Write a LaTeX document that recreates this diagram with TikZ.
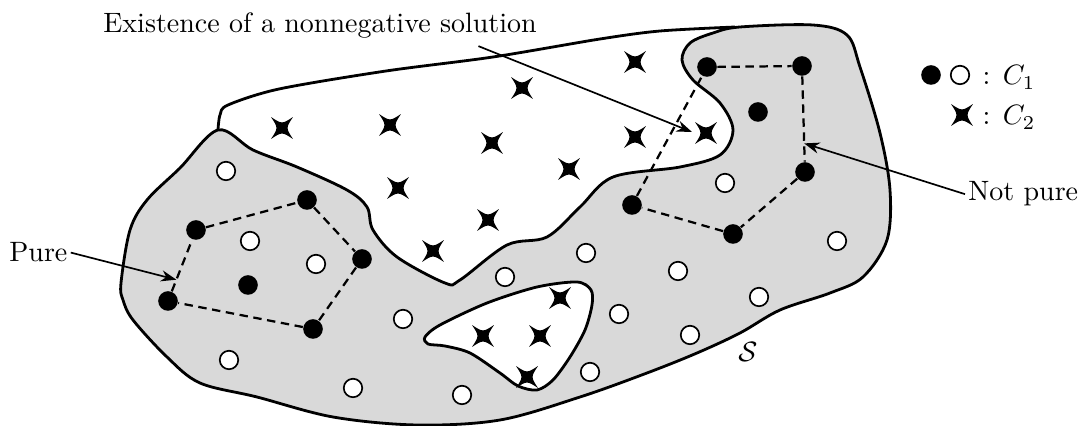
\documentclass[tikz,border=0pt]{standalone}
\usepackage{amsmath}
\usepackage{amssymb}
\usepackage{tikz}
\usetikzlibrary{calc}
\usetikzlibrary{arrows.meta}
\tikzset{fullpt/.style={circle,fill=black,inner sep=0pt,minimum size=7pt},
	openpt/.style={circle,draw=black,fill=white,line width=0.6pt,inner sep=0pt,minimum size=6.6pt},
	hull/.style={dash pattern=on 3pt off 2pt,line width=0.8pt},
	pointer/.style={-{Stealth[length=5.5pt,width=4pt,inset=1.8pt]},line width=0.6pt},
	rim/.style={line width=1pt},
}
\tikzset{crosspt/.pic={
		\fill (45:15.5) .. controls (90:3.8) and (90:3.8) .. (135:15.5)
		.. controls (180:3.8) and (180:3.8) .. (225:15.5)
		.. controls (270:3.8) and (270:3.8) .. (315:15.5)
		.. controls (0:3.8) and (0:3.8) .. cycle;}}

\begin{document}
\begin{tikzpicture}[x=0.357pt,y=-0.357pt]
	\tikzstyle{every node}=[font=\normalsize]
	\useasboundingbox (0,0) rectangle (1084,426);
	
	% the set S
	\filldraw[rim,fill=black!15] plot[smooth cycle,tension=0.55] coordinates {
		(218,130) (253,150) (297,167) (347,190) (367,207) (373,230) (397,257) (445,283)
		(460,280) (507,245) (547,237) (580,207) (613,177) (680,167) (720,155) (733,130)
		(720,103) (693,80) (682,60) (690,43) (713,33) (740,27) (813,25) (847,35) (860,67)
		(880,133) (890,190) (887,240) (863,277) (830,293) (780,310) (740,333) (697,353)
		(647,373) (580,397) (500,420) (417,425) (333,417) (257,397) (200,383) (167,357)
		(133,320) (123,300) (121,283) (130,230) (147,200) (180,168)};
	% hole
	\filldraw[rim,fill=white] plot[smooth cycle] coordinates {
		(425,337) (440,325) (487,303) (537,287) (577,282) (591,290) (592,305) (585,330)
		(570,357) (553,380) (537,390) (518,386) (500,373) (470,353) (445,346) (428,344)};
	% upper edge of the white part
	\draw[rim] plot[smooth,tension=0.5] coordinates {(218,130) (220,115) (228,105) (279,89)
		(386,71) (493,57) (600,39) (660,31) (735,27)};
	
	\foreach \x/\y in {282/128,390/125,492/143,398/188,488/220,433/251,522/88,635/62,
		635/137,569/169,706/133,560/298,483/336,540/336,527/377}
	\pic at (\x,\y) {crosspt};
	
	\foreach \x/\y [count=\i] in {226/171,250/241,316/264,725/183,505/277,586/253,837/241,
		678/271,619/314,759/297,690/335,590/372,403/319,229/360,353/388,462/395}
	\node[openpt] (open\i) at (\x,\y) {};
	
	\node[fullpt] (pa) at (196,230) {};
	\node[fullpt] (pb) at (307,200) {};
	\node[fullpt] (pc) at (362,259) {};
	\node[fullpt] (pd) at (313,329) {};
	\node[fullpt] (pe) at (168,301) {};
	\node[fullpt] (pin) at (248,285) {};
	\draw[hull] (pa) -- (pb) -- (pc) -- (pd) -- (pe) -- (pa);
	
	\node[fullpt] (na) at (707,67) {};
	\node[fullpt] (nb) at (802,66) {};
	\node[fullpt] (nc) at (805,172) {};
	\node[fullpt] (nd) at (733,234) {};
	\node[fullpt] (ne) at (632,205) {};
	\node[fullpt] (nin) at (758,112) {};
	\draw[hull] (na) -- (nb) -- (nc) -- (nd) -- (ne) -- (na);
	
	\node[anchor=base west,inner sep=1pt] (pure) at (6,262) {Pure};
	\draw[pointer] (pure.east) -- ($(pa)!0.7!(pe)$);
	
	\node[anchor=base west,inner sep=1pt] (notpure) at (965,201) {Not pure};
	\draw[pointer] (notpure.west) -- ($(nb)!0.73!(nc)$);
	
	\node[anchor=base west,inner sep=1pt] (exist) at (100,33) {Existence of a nonnegative solution};
	\coordinate (hit) at (692,132);
	\draw[pointer] ($(exist.south west)!0.86!(exist.south east)+(0,4)$) -- (hit);
	
	\node (setS) at (748,352) {$\mathcal{S}$};
	
	% legend
	\node[fullpt] (lfull) at (931,75) {};
	\node[openpt] (lopen) at (960,75) {};
	\node[anchor=base west,inner sep=0pt] (lone) at (982,85) {: $C_1$};
	\pic at (962,115) {crosspt};
	\node[anchor=base west,inner sep=0pt] (ltwo) at (982,125) {: $C_2$};
\end{tikzpicture}
\end{document}
